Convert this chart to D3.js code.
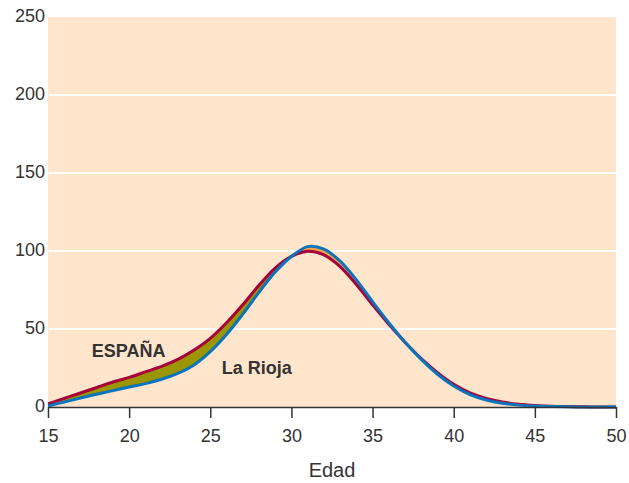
<!DOCTYPE html>
<html>
<head>
<meta charset="utf-8">
<script src="https://cdn.jsdelivr.net/npm/d3@7"></script>
<style>
  body { margin: 0; background: #fff; }
  svg text { font-family: "Liberation Sans", Arial, sans-serif; fill: #333; }
</style>
</head>
<body>
<div id="chart"></div>
<script>
// ages 15..50
var ages = d3.range(15, 51);
var espana = [2, 5.5, 9, 12.5, 16, 19, 22.5, 26, 30.5, 36.5, 44, 54, 65.5, 78, 89, 96.5,
  99.8, 97.5, 90, 78.5, 65.5, 53, 41.5, 31, 22, 14.5, 9, 5.5, 3.2, 1.8, 1, 0.5, 0.25, 0.1, 0.05, 0];
var rioja = [0.6, 3.2, 5.8, 8.2, 10.5, 12.8, 15, 17.8, 21.5, 27, 35.5, 46.5, 59.5, 73.5, 86.5, 96.5,
  102.8, 101.2, 93.5, 81.5, 67.5, 54, 41.5, 30.5, 21, 13.5, 8, 4.5, 2.4, 1.2, 0.6, 0.3, 0.1, 0, 0, 0];
var xTicks = [15, 20, 25, 30, 35, 40, 45, 50];
var yTicks = [0, 50, 100, 150, 200, 250];

var width = 629, height = 483;
var margin = {left: 48, right: 13, top: 17, bottom: 76};
var plotW = width - margin.left - margin.right;
var plotH = height - margin.top - margin.bottom;

var svg = d3.select("#chart").append("svg")
  .attr("width", width)
  .attr("height", height);

var g = svg.append("g")
  .attr("transform", "translate(" + margin.left + "," + margin.top + ")");

var x = d3.scaleLinear().domain([15, 50]).range([0, plotW]);
var y = d3.scaleLinear().domain([0, 250]).range([plotH, 0]);

var data = ages.map(function(a, i) {
  return {age: a, esp: espana[i], rio: rioja[i]};
});

// background
g.append("rect")
  .attr("width", plotW)
  .attr("height", plotH)
  .attr("fill", "#fee5cc");

// white gridlines
g.selectAll(".grid")
  .data(yTicks.filter(function(d) { return d > 0 && d < 250; }))
  .enter().append("line")
  .attr("x1", 1)
  .attr("x2", plotW)
  .attr("y1", function(d) { return y(d); })
  .attr("y2", function(d) { return y(d); })
  .attr("stroke", "#fff")
  .attr("stroke-width", 2);

var curve = d3.curveCatmullRom.alpha(0.5);

// clip paths for the difference fill
var defs = svg.append("defs");
defs.append("clipPath").attr("id", "below-esp")
  .append("path")
  .attr("d", d3.area().curve(curve)
    .x(function(d) { return x(d.age); })
    .y0(plotH)
    .y1(function(d) { return y(d.esp); })(data));
defs.append("clipPath").attr("id", "above-esp")
  .append("path")
  .attr("d", d3.area().curve(curve)
    .x(function(d) { return x(d.age); })
    .y0(0)
    .y1(function(d) { return y(d.esp); })(data));

// olive: Espana above Rioja
g.append("path")
  .attr("clip-path", "url(#below-esp)")
  .attr("fill", "#9b9500")
  .attr("d", d3.area().curve(curve)
    .x(function(d) { return x(d.age); })
    .y0(0)
    .y1(function(d) { return y(d.rio); })(data));

// orange: Rioja above Espana
g.append("path")
  .attr("clip-path", "url(#above-esp)")
  .attr("fill", "#f6a64a")
  .attr("d", d3.area().curve(curve)
    .x(function(d) { return x(d.age); })
    .y0(plotH)
    .y1(function(d) { return y(d.rio); })(data));

var line = function(key) {
  return d3.line().curve(curve)
    .x(function(d) { return x(d.age); })
    .y(function(d) { return y(d[key]); });
};

g.append("path")
  .attr("d", line("esp")(data))
  .attr("fill", "none")
  .attr("stroke", "#a8003a")
  .attr("stroke-width", 3);

g.append("path")
  .attr("d", line("rio")(data))
  .attr("fill", "none")
  .attr("stroke", "#0a74bd")
  .attr("stroke-width", 3);

// x axis
var xAxis = g.append("g")
  .attr("transform", "translate(0," + plotH + ")")
  .call(d3.axisBottom(x).tickValues(xTicks).tickSize(11).tickSizeOuter(0).tickPadding(11));
xAxis.select(".domain").attr("stroke", "#333").attr("stroke-width", 1.5);
xAxis.selectAll(".tick line").attr("stroke", "#333").attr("stroke-width", 1.5);
xAxis.selectAll(".tick text")
  .attr("font-size", 18)
  .attr("fill", "#333")
  .attr("font-family", "Liberation Sans, Arial, sans-serif");

// y labels
g.selectAll(".ylab")
  .data(yTicks)
  .enter().append("text")
  .attr("x", -3)
  .attr("y", function(d) { return y(d); })
  .attr("dy", "0.3em")
  .attr("text-anchor", "end")
  .attr("font-size", 18)
  .text(function(d) { return d; });

// axis title
svg.append("text")
  .attr("x", margin.left + plotW / 2)
  .attr("y", 477)
  .attr("text-anchor", "middle")
  .attr("font-size", 20)
  .text("Edad");

// series labels
g.append("text")
  .attr("x", x(17.7))
  .attr("y", y(32))
  .attr("font-size", 18)
  .attr("font-weight", "bold")
  .text("ESPAÑA");

g.append("text")
  .attr("x", x(25.7))
  .attr("y", y(21))
  .attr("font-size", 18)
  .attr("font-weight", "bold")
  .text("La Rioja");
</script>
</body>
</html>
